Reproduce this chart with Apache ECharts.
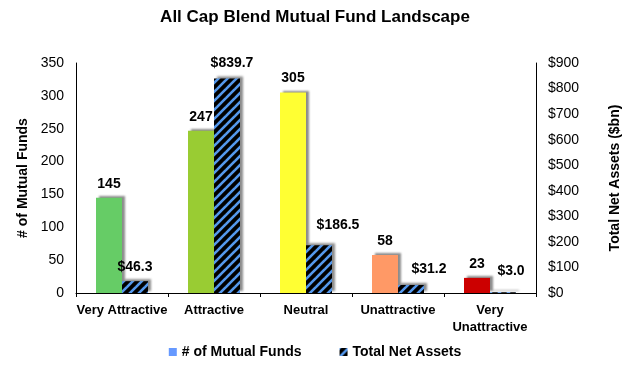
<!DOCTYPE html>
<html>
<head>
<meta charset="utf-8">
<script src="https://cdn.jsdelivr.net/npm/echarts@6/dist/echarts.min.js"></script>
<style>html,body{margin:0;padding:0;background:#fff;}#c{width:630px;height:367px;}</style>
</head>
<body>
<div id="c"></div>
<script>
const categories = ['Very Attractive', 'Attractive', 'Neutral', 'Unattractive', 'Very\nUnattractive'];
const fundCounts = [145, 247, 305, 58, 23];
const netAssets = [46.3, 839.7, 186.5, 31.2, 3.0];
const fundColors = ['#66CC66', '#99CC33', '#FFFF33', '#FF9966', '#CC0000'];
const leftTicks = { min: 0, max: 350, interval: 50 };
const rightTicks = { min: 0, max: 900, interval: 100 };
// hand-placed data label nudges (px) for the Total Net Assets labels, as in the reference
const assetLabelNudges = [[0, 0], [5, -1], [19, -6], [18, -2], [8, -7]];

function hatch() {
  const c = document.createElement('canvas');
  c.width = 9; c.height = 9;
  const g = c.getContext('2d');
  g.fillStyle = '#000';
  g.fillRect(0, 0, 9, 9);
  g.strokeStyle = '#5599EE';
  g.lineWidth = 2.6;
  [0, 9, 18].forEach(function (k) {
    g.beginPath(); g.moveTo(k - 9 - 1, 9 + 1); g.lineTo(k + 1, -1); g.stroke();
  });
  return c;
}
const pattern = { image: hatch(), repeat: 'repeat' };
const FONT = 'Liberation Sans, Arial, sans-serif';
const shadow = { shadowColor: 'rgba(0,0,0,0.45)', shadowBlur: 2, shadowOffsetX: 3, shadowOffsetY: -2 };

const chart = echarts.init(document.getElementById('c'), null, { renderer: 'canvas' });
chart.setOption({
  animation: false,
  textStyle: { fontFamily: FONT },
  title: {
    text: 'All Cap Blend Mutual Fund Landscape', left: 'center', top: 4,
    textStyle: { fontSize: 17, fontWeight: 'bold', color: '#000', fontFamily: FONT }
  },
  legend: {
    bottom: 3, left: 'center', itemGap: 38, itemWidth: 8, itemHeight: 8, icon: 'rect',
    textStyle: { fontSize: 14, fontWeight: 'bold', color: '#000', fontFamily: FONT },
    data: [
      { name: '# of Mutual Funds', itemStyle: { color: '#6699FF' } },
      { name: 'Total Net Assets' }
    ]
  },
  grid: { left: 76, right: 87, top: 63, bottom: 74 },
  xAxis: {
    type: 'category', data: categories,
    axisLine: { lineStyle: { color: '#000', width: 1 } },
    axisTick: { show: true, length: 4, lineStyle: { color: '#000' } },
    axisLabel: { fontSize: 13, fontWeight: 'bold', color: '#000', fontFamily: FONT, margin: 9, interval: 0, lineHeight: 17 }
  },
  yAxis: [
    {
      type: 'value', min: leftTicks.min, max: leftTicks.max, interval: leftTicks.interval,
      name: '# of Mutual Funds', nameLocation: 'middle', nameGap: 46, nameRotate: 90,
      nameTextStyle: { fontSize: 14, fontWeight: 'bold', color: '#000', fontFamily: FONT },
      axisLine: { show: true, lineStyle: { color: '#000' } },
      axisTick: { show: false },
      splitLine: { show: false },
      axisLabel: { fontSize: 14, color: '#000', fontFamily: FONT, margin: 12 }
    },
    {
      type: 'value', min: rightTicks.min, max: rightTicks.max, interval: rightTicks.interval,
      name: 'Total Net Assets ($bn)', nameLocation: 'middle', nameGap: 72, nameRotate: 90,
      nameTextStyle: { fontSize: 14, fontWeight: 'bold', color: '#000', fontFamily: FONT },
      axisLine: { show: true, lineStyle: { color: '#000' } },
      axisTick: { show: false },
      splitLine: { show: false },
      axisLabel: { fontSize: 14, color: '#000', fontFamily: FONT, margin: 12, formatter: function (v) { return '$' + v; } }
    }
  ],
  series: [
    {
      name: '# of Mutual Funds', type: 'bar', yAxisIndex: 0, barWidth: 26, barGap: '0%',
      itemStyle: Object.assign({ color: '#6699FF' }, shadow),
      data: fundCounts.map(function (v, i) { return { value: v, itemStyle: { color: fundColors[i] } }; }),
      label: { show: true, position: 'top', distance: 7, fontSize: 14, fontWeight: 'bold', color: '#000', fontFamily: FONT }
    },
    {
      name: 'Total Net Assets', type: 'bar', yAxisIndex: 1, barWidth: 26,
      itemStyle: Object.assign({ color: pattern }, shadow),
      data: netAssets.map(function (v, i) { return { value: v, label: { offset: assetLabelNudges[i] } }; }),
      label: { show: true, position: 'top', distance: 7, fontSize: 14, fontWeight: 'bold', color: '#000', fontFamily: FONT,
        formatter: function (p) { return '$' + p.value.toFixed(1); } }
    }
  ]
});
</script>
</body>
</html>
